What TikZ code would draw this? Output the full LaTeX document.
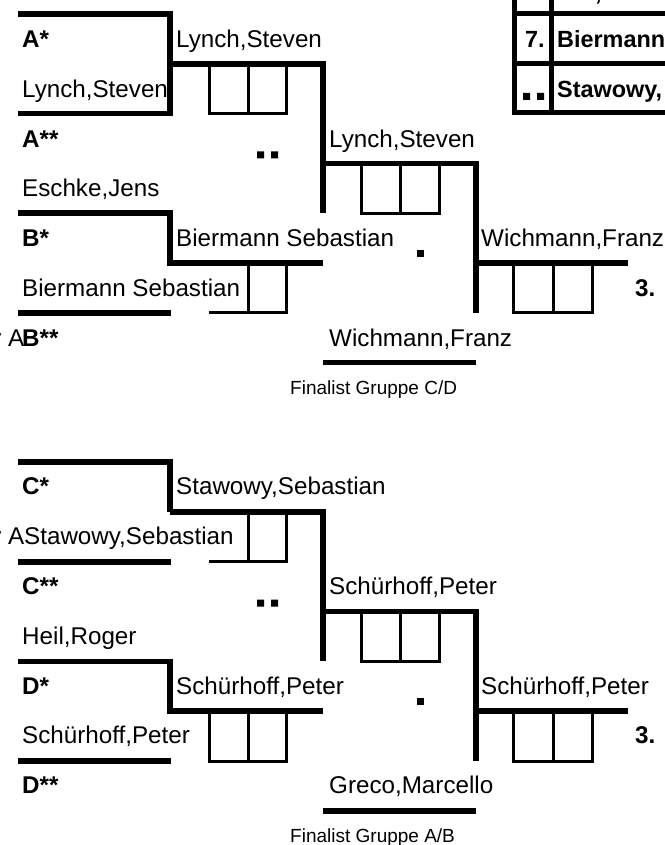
\documentclass[tikz,border=0pt]{standalone}
\usepackage{fontspec}
\setmainfont{Liberation Sans}

\begin{document}
\begin{tikzpicture}[x=1pt, y=-1pt,
  bar/.style={line width=5.5pt},
  cell/.style={line width=3pt},
  tab/.style={line width=5pt},
  player/.style={font=\fontsize{24.2}{29}\selectfont, anchor=base west, inner sep=0pt},
  seed/.style={player, font=\fontsize{24.2}{29}\selectfont\bfseries},
  rowname/.style={player, font=\fontsize{23.4}{28}\selectfont\bfseries},
  note/.style={font=\fontsize{19}{23}\selectfont, anchor=base west, inner sep=0pt}
]
  \path[use as bounding box, fill=white] (0,0) rectangle (664,845);

  % score cells
  \draw[cell] (209,63.8) rectangle (286,113.6) (248,63.8) -- (248,113.6);
  \draw[cell] (209,312.8) -| (286,263) (248,263) -- (248,312.8);
  \draw[cell] (209,561.8) -| (286,512) (248,512) -- (248,561.8);
  \draw[cell] (209,711.2) rectangle (286,761) (248,711.2) -- (248,761);
  \foreach \dy in {0,448.2} {
    \begin{scope}[yshift=-\dy pt]
      \draw[cell] (361,163.4) rectangle (439,213.2) (400,163.4) -- (400,213.2);
      \draw[cell] (513,263) rectangle (592,312.8) (553,263) -- (553,312.8);
      \fill (257,151.5) rectangle +(7,7) (271,151.5) rectangle +(7,7);
      \fill (416.5,250) rectangle +(7,7);
    \end{scope}
  }

  % upper half
  \node[seed] (seedA1) at (22,47.5) {A*};
  \node[player] (nameA1) at (22,97.3) {Lynch,Steven};
  \node[seed] (seedA2) at (22,147.1) {A**};
  \node[player] (nameA2) at (22,196.9) {Eschke,Jens};
  \node[seed] (seedB1) at (22,246.7) {B*};
  \node[player] (nameB1) at (22,296.5) {Biermann Sebastian};
  \node[player, anchor=base east] (spillB) at (24.5,346.3) {y A};
  \node[seed] (seedB2) at (22,346.3) {B**};
  \node[player] (winA) at (176,47.5) {Lynch,Steven};
  \node[player] (winB) at (176,246.7) {Biermann Sebastian};
  \node[player] (winAB) at (329,147.1) {Lynch,Steven};
  \node[player] (finCD) at (329,346.3) {Wichmann,Franz};
  \node[note] (grpCD) at (290,394.3) {Finalist Gruppe C/D};
  \node[player] (topUp) at (481,246.7) {Wichmann,Franz};
  \node[seed] (rankUp) at (635,296.5) {3.};

  % lower half
  \node[seed] (seedC1) at (22,494.8) {C*};
  \node[player, anchor=base east] (spillC) at (24.5,544.6) {y A};
  \node[player] (nameC1) at (24,544.6) {Stawowy,Sebastian};
  \node[seed] (seedC2) at (22,594.4) {C**};
  \node[player] (nameC2) at (22,644.2) {Heil,Roger};
  \node[seed] (seedD1) at (22,694) {D*};
  \node[player] (nameD1) at (22,743.8) {Schürhoff,Peter};
  \node[seed] (seedD2) at (22,793.6) {D**};
  \node[player] (winC) at (176,494.8) {Stawowy,Sebastian};
  \node[player] (winD) at (176,694) {Schürhoff,Peter};
  \node[player] (winCD) at (329,594.4) {Schürhoff,Peter};
  \node[player] (finAB) at (329,793.6) {Greco,Marcello};
  \node[note] (grpAB) at (290,842.5) {Finalist Gruppe A/B};
  \node[player] (topLow) at (481,694) {Schürhoff,Peter};
  \node[seed] (rankLow) at (635,743.8) {3.};

  % bracket lines
  \draw[bar] (18,14) -- (170,14) -- (170,113.6) -- (18,113.6);
  \draw[bar] (18,462.2) -- (170,462.2) -- (170,512);
  \draw[bar] (18,561.8) -- (171,561.8);
  \foreach \dy in {0,448.2} {
    \begin{scope}[yshift=-\dy pt]
      \draw[bar] (170,63.8) -- (323,63.8) -- (323,213.2);
      \draw[bar] (18,213.2) -- (170,213.2) -- (170,263) -- (323,263);
      \draw[bar] (18,312.8) -- (171,312.8);
      \draw[bar] (323,163.4) -- (476,163.4) -- (476,312.8);
      \draw[bar] (476,263) -- (628,263);
      \draw[bar] (323,362.6) -- (476,362.6);
    \end{scope}
  }

  % ranking table
  \draw[tab] (514.5,-5) -- (514.5,113) -- (670,113);
  \draw[tab] (551,-5) -- (551,113);
  \draw[tab] (514.5,14) -- (670,14) (514.5,64) -- (670,64);
  \fill (523,93) rectangle +(7,7) (537,93) rectangle +(7,7);
  \node[rowname] (cut) at (595,0.5) {,};
  \node[rowname] (rank7) at (525,47.5) {7.};
  \node[rowname] (rowA) at (557,47.5) {Biermann};
  \node[rowname] (rowB) at (557,97.3) {Stawowy,};
\end{tikzpicture}
\end{document}
